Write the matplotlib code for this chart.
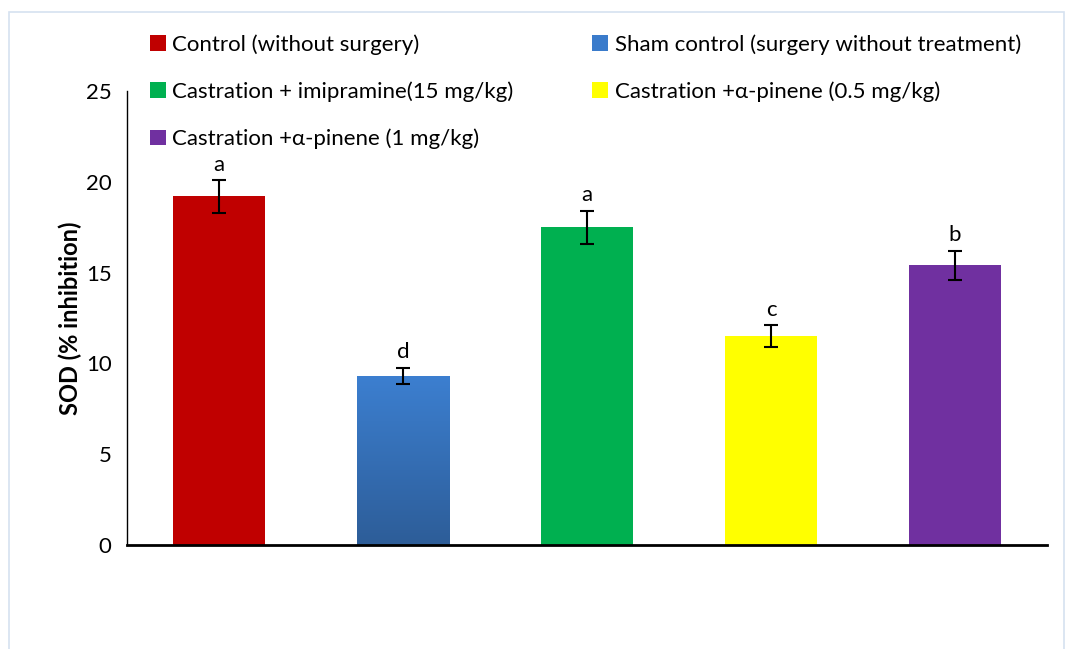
import numpy as np
import matplotlib
matplotlib.use("Agg")
import matplotlib.pyplot as plt
from matplotlib.patches import Rectangle, Patch

# data
groups = ["Control (without surgery)",
          "Sham control (surgery without treatment)",
          "Castration + imipramine(15 mg/kg)",
          "Castration +\u03b1-pinene (0.5 mg/kg)",
          "Castration +\u03b1-pinene (1 mg/kg)"]
sod = [19.2, 9.3, 17.5, 11.5, 15.4]
err = [0.9, 0.45, 0.9, 0.6, 0.8]
letters = ["a", "d", "a", "c", "b"]
colors = ["#C00000", "#3A7BCB", "#00B050", "#FFFF00", "#7030A0"]

plt.rcParams['font.family'] = ['Lato', 'DejaVu Sans']

fig = plt.figure(figsize=(10.71, 6.49), dpi=100)
fig.patches.append(Rectangle((9 / 1071, -0.1), 1055 / 1071, 1 - 12 / 649 + 0.1,
                             transform=fig.transFigure, fill=False,
                             edgecolor="#D6E2F0", linewidth=1.2))

ax = fig.add_axes([127 / 1071, 1 - 545 / 649, 920 / 1071, 454 / 649])
x = np.arange(len(sod))
bars = ax.bar(x, sod, width=0.505, color=colors, zorder=2)

# gradient for the sham bar
b = bars[1]
grad = np.linspace(0, 1, 256).reshape(-1, 1)
cmap = matplotlib.colors.LinearSegmentedColormap.from_list("g", ["#2D5D98", "#3C7FD0"])
im = ax.imshow(grad, cmap=cmap, aspect="auto", origin="lower",
               extent=[b.get_x(), b.get_x() + b.get_width(), 0, b.get_height()], zorder=2)
im.set_clip_path(b)

ax.errorbar(x, sod, yerr=err, fmt="none", ecolor="black", elinewidth=1.5,
            capsize=5, capthick=1.5, zorder=3)
for xi, v, e, t in zip(x, sod, err, letters):
    ax.text(xi, v + e + 0.3, t, ha="center", va="bottom", fontsize=16)

ax.set_xlim(-0.5, 4.5)
ax.set_ylim(0, 25)
ax.set_yticks([0, 5, 10, 15, 20, 25])
ax.set_xticks([])
ax.tick_params(axis="y", length=0, labelsize=16, pad=11)
ax.spines["top"].set_visible(False)
ax.spines["right"].set_visible(False)
ax.spines["left"].set_linewidth(1.0)
ax.spines["bottom"].set_linewidth(2.0)
ax.set_ylabel("SOD (% inhibition)", fontsize=17, fontweight="bold", labelpad=3)

order = [0, 2, 4, 1, 3]
handles = [Patch(facecolor=colors[i]) for i in order]
labels = [groups[i] for i in order]
fig.legend(handles, labels, ncol=2, loc="upper left",
           bbox_to_anchor=(150 / 1071, 1 - 34 / 649), frameon=False,
           fontsize=16, handlelength=0.7, handleheight=0.7, handletextpad=0.3,
           labelspacing=1.2, columnspacing=3.55, borderaxespad=0, borderpad=0)

fig.savefig("out.png", dpi=100)
